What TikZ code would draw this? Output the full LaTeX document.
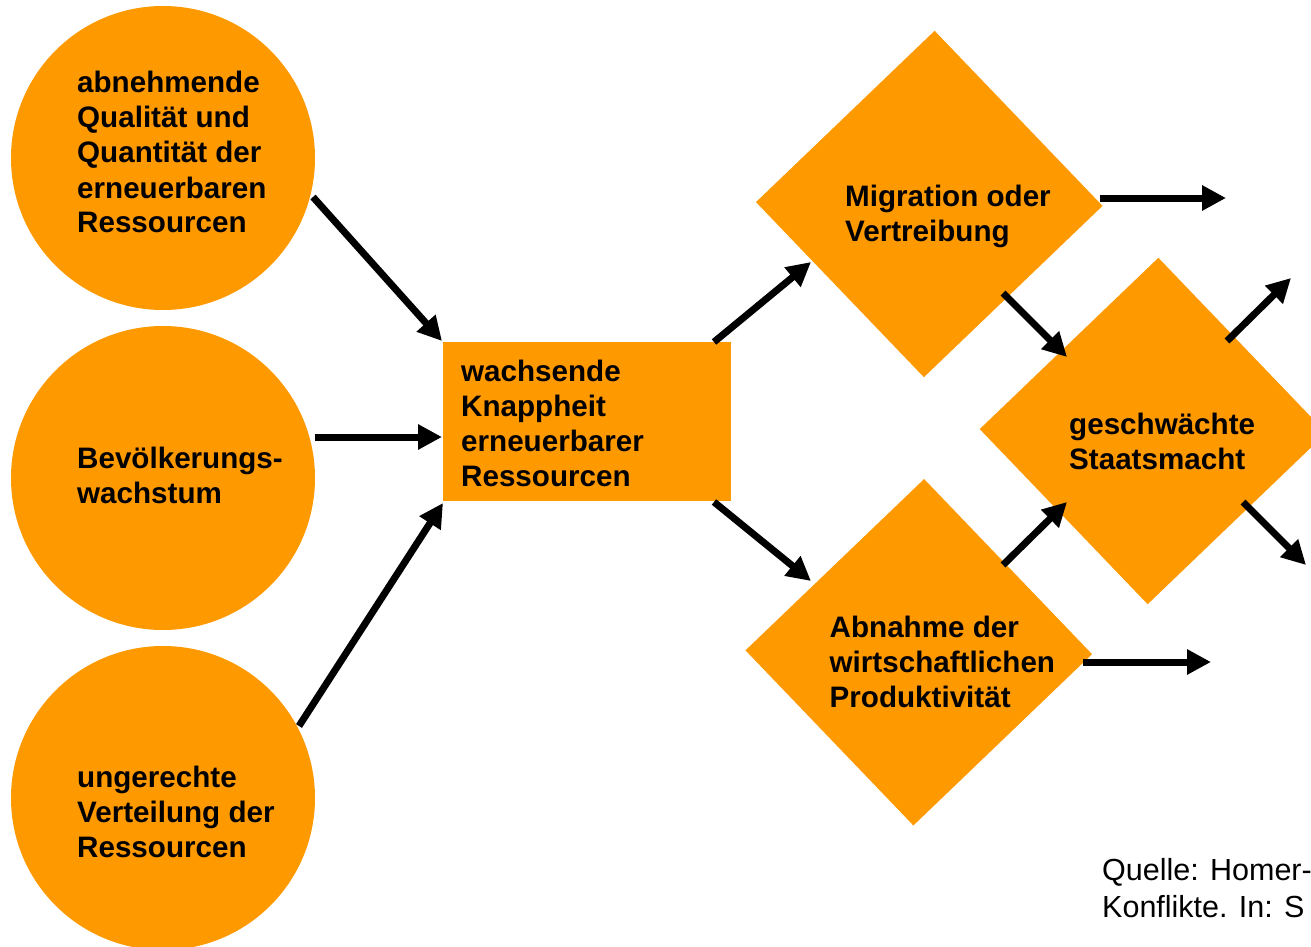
\documentclass[tikz,border=0pt]{standalone}
\usepackage{fontspec}
\setmainfont{Liberation Sans}
\usetikzlibrary{arrows.meta}
\definecolor{orng}{RGB}{255,153,0}
\begin{document}
\begin{tikzpicture}[x=1pt,y=-1pt,
  circ/.style={circle,fill=orng,minimum size=304pt,inner sep=0pt},
  box/.style={rectangle,fill=orng,minimum width=288pt,minimum height=159pt,inner sep=0pt},
  dia/.style={rectangle,fill=orng,rotate=-46.2,minimum width=242.6pt,minimum height=247.5pt,inner sep=0pt},
  lbl/.style={inner sep=0pt,anchor=base west,font=\fontsize{29.6}{35}\selectfont\bfseries},
  src/.style={inner sep=0pt,anchor=base west,font=\fontsize{30.5}{37}\selectfont},
  arr/.style={line width=7pt,-{Triangle[length=24pt,width=24pt]}}
]
\useasboundingbox (0,0) rectangle (1311,947);
\clip (0,0) rectangle (1311,947);

% shapes
\node[circ] (c1) at (163,158) {};
\node[circ] (c2) at (163,478) {};
\node[circ] (c3) at (163,798) {};
\node[box] (r) at (587,421.5) {};
\node[dia] (d1) at (929.25,204) {};
\node[dia] (d2) at (1153,431) {};
\node[dia] (d3) at (918.75,652.25) {};

% texts
\node[lbl] (t1) at (77,93) {\begin{tabular}[t]{@{}l@{}}abnehmende\\Qualität und\\Quantität der\\erneuerbaren\\Ressourcen\end{tabular}};
\node[lbl] (t2) at (77,468) {\begin{tabular}[t]{@{}l@{}}Bevölkerungs-\\wachstum\end{tabular}};
\node[lbl] (t3) at (77,787) {\begin{tabular}[t]{@{}l@{}}ungerechte\\Verteilung der\\Ressourcen\end{tabular}};
\node[lbl] (tr) at (461,381) {\begin{tabular}[t]{@{}l@{}}wachsende\\Knappheit\\erneuerbarer\\Ressourcen\end{tabular}};
\node[lbl] (td1) at (845,206) {\begin{tabular}[t]{@{}l@{}}Migration oder\\Vertreibung\end{tabular}};
\node[lbl] (td2) at (1069,434) {\begin{tabular}[t]{@{}l@{}}geschwächte\\Staatsmacht\end{tabular}};
\node[lbl] (td3) at (829.5,637) {\begin{tabular}[t]{@{}l@{}}Abnahme der\\wirtschaftlichen\\Produktivität\end{tabular}};
\node[src] (q) at (1102,880) {\begin{tabular}[t]{@{}l@{}}Quelle: Homer-\\Konflikte. In: S\end{tabular}};

% connector end points
\coordinate (a1s) at (313,197);   \coordinate (a1e) at (442,341);
\coordinate (a2s) at (315,437);   \coordinate (a2e) at (442,437);
\coordinate (a3s) at (299,726);   \coordinate (a3e) at (443,503);
\coordinate (a4s) at (714,342);   \coordinate (a4e) at (811,262);
\coordinate (a5s) at (714,502);   \coordinate (a5e) at (811,581);
\coordinate (a6s) at (1100,198);  \coordinate (a6e) at (1226,198);
\coordinate (a7s) at (1003,293);  \coordinate (a7e) at (1067,357);
\coordinate (a8s) at (1003,565);  \coordinate (a8e) at (1067,502);
\coordinate (a9s) at (1227,341);  \coordinate (a9e) at (1291,278);
\coordinate (a10s) at (1243,502); \coordinate (a10e) at (1306,565);
\coordinate (a11s) at (1083,662); \coordinate (a11e) at (1211,662);

% connectors
\draw[arr] (a1s) -- (a1e);
\draw[arr] (a2s) -- (a2e);
\draw[arr] (a3s) -- (a3e);
\draw[arr] (a4s) -- (a4e);
\draw[arr] (a5s) -- (a5e);
\draw[arr] (a6s) -- (a6e);
\draw[arr] (a7s) -- (a7e);
\draw[arr] (a8s) -- (a8e);
\draw[arr] (a9s) -- (a9e);
\draw[arr] (a10s) -- (a10e);
\draw[arr] (a11s) -- (a11e);
\end{tikzpicture}
\end{document}
